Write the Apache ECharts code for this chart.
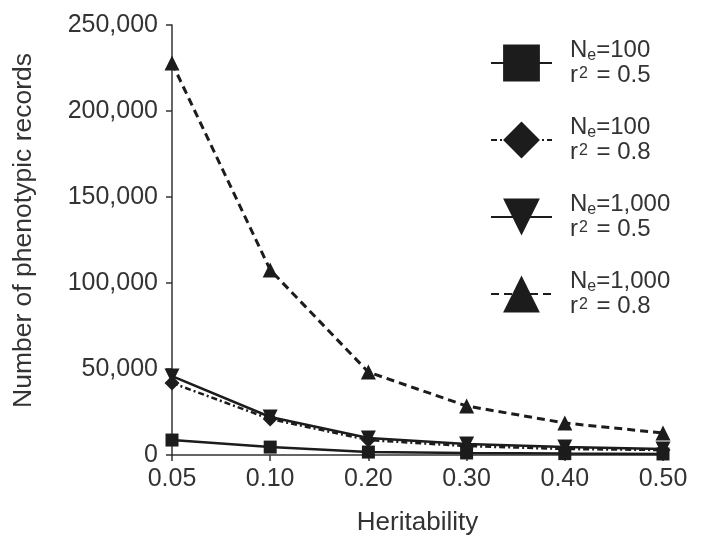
<!DOCTYPE html>
<html>
<head>
<meta charset="utf-8">
<script src="https://cdn.jsdelivr.net/npm/echarts@6/dist/echarts.min.js"></script>
<style>
html,body{margin:0;padding:0;background:#fff;}
#chart{width:701px;height:544px;}
</style>
</head>
<body>
<div id="chart"></div>
<script>
var categories = ['0.05', '0.10', '0.20', '0.30', '0.40', '0.50'];
var yTicks = [0, 50000, 100000, 150000, 200000, 250000];

var ne100r05 = [8700, 4600, 1700, 1200, 800, 600];
var ne100r08 = [41900, 20900, 8700, 5200, 3500, 2900];
var ne1000r05 = [45900, 22100, 9900, 6400, 4600, 3500];
var ne1000r08 = [227900, 107600, 48200, 28500, 18600, 12800];

var seriesNames = ['Ne=100 r2=0.5', 'Ne=100 r2=0.8', 'Ne=1,000 r2=0.5', 'Ne=1,000 r2=0.8'];
var legendNe = ['100', '100', '1,000', '1,000'];
var legendR2 = ['0.5', '0.8', '0.5', '0.8'];

var FONT = '"Liberation Sans", Arial, Helvetica, sans-serif';
var INK = '#1c1c1c';
var TXT = '#333';

var chart = echarts.init(document.getElementById('chart'), null, {renderer: 'canvas'});

function mkSeries(name, data, symbol, size, lineType, width) {
  return {
    name: name,
    type: 'line',
    data: data,
    symbol: symbol,
    symbolSize: size,
    showSymbol: true,
    lineStyle: {color: INK, width: width, type: lineType},
    itemStyle: {color: INK},
    emphasis: {disabled: true},
    animation: false
  };
}

var option = {
  backgroundColor: '#fff',
  animation: false,
  grid: {left: 172, right: 38, top: 25, bottom: 89, containLabel: false, outerBoundsMode: 'none'},
  legend: {
    orient: 'vertical',
    left: 485,
    top: 33,
    itemWidth: 61,
    itemHeight: 46,
    itemGap: 27,
    selectedMode: false,
    lineStyle: {width: 2},
    data: seriesNames,
    formatter: function (name) {
      var i = seriesNames.indexOf(name);
      return '{n|N}{s|e}{n|=' + legendNe[i] + '}\n{n|r}{p|2}{n| = ' + legendR2[i] + '}';
    },
    textStyle: {
      color: TXT,
      fontFamily: FONT,
      fontSize: 24,
      lineHeight: 25,
      padding: [0, 0, 0, 13],
      rich: {
        n: {fontSize: 24, fontFamily: FONT, color: TXT, lineHeight: 25},
        s: {fontSize: 16, fontFamily: FONT, color: TXT, padding: [10, 0, 0, 0]},
        p: {fontSize: 16, fontFamily: FONT, color: TXT, padding: [0, 2, 4, 1]}
      }
    }
  },
  xAxis: {
    type: 'category',
    data: categories,
    boundaryGap: false,
    name: 'Heritability',
    nameLocation: 'middle',
    nameGap: 55,
    nameTextStyle: {color: TXT, fontFamily: FONT, fontSize: 26},
    axisLine: {lineStyle: {color: '#333', width: 1.5}},
    axisTick: {show: true, alignWithLabel: true, length: 6, lineStyle: {color: '#333', width: 1.5}},
    axisLabel: {color: TXT, fontFamily: FONT, fontSize: 25, margin: 12},
    splitLine: {show: false}
  },
  yAxis: {
    type: 'value',
    min: yTicks[0],
    max: yTicks[yTicks.length - 1],
    interval: yTicks[1] - yTicks[0],
    name: 'Number of phenotypic records',
    nameLocation: 'middle',
    nameGap: 135,
    nameTextStyle: {color: TXT, fontFamily: FONT, fontSize: 26.5, padding: [0, 0, 0, 19]},
    axisLine: {show: true, lineStyle: {color: '#333', width: 1.5}},
    axisTick: {show: true, length: 6, lineStyle: {color: '#333', width: 1.5}},
    axisLabel: {
      color: TXT, fontFamily: FONT, fontSize: 25, margin: 14,
      formatter: function (v) { return v.toLocaleString('en-US'); }
    },
    splitLine: {show: false}
  },
  series: [
    mkSeries(seriesNames[0], ne100r05, 'rect', 13, 'solid', 2.5),
    mkSeries(seriesNames[1], ne100r08, 'diamond', 15, [6, 3, 2, 3], 2.5),
    mkSeries(seriesNames[2], ne1000r05, 'path://M0,0 L10,0 L5,10 Z', 15, 'solid', 2.5),
    mkSeries(seriesNames[3], ne1000r08, 'triangle', 15, [8, 5], 3)
  ]
};

chart.setOption(option);
</script>
</body>
</html>
